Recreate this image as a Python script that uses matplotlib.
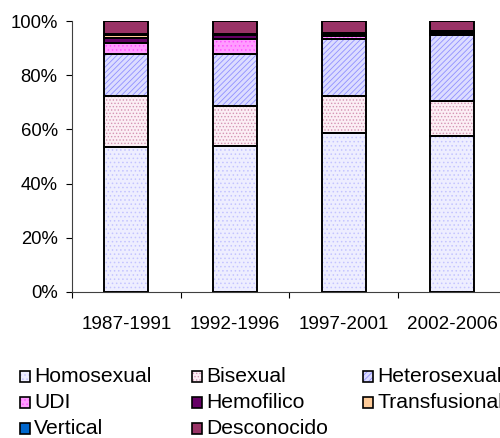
import matplotlib
matplotlib.use("Agg")
import matplotlib.pyplot as plt
from matplotlib.patches import Rectangle
import numpy as np

periods = ["1987-1991", "1992-1996", "1997-2001", "2002-2006"]
groups = ["Homosexual", "Bisexual", "Heterosexual", "UDI", "Hemofilico",
          "Transfusional", "Vertical", "Desconocido"]

# percent of cases per period
homosexual = [53.5, 54.0, 58.6, 57.6]
bisexual = [18.8, 14.8, 13.7, 13.0]
heterosexual = [15.4, 19.2, 21.0, 24.2]
udi = [4.3, 5.5, 1.2, 0.5]
hemofilico = [1.8, 1.2, 0.6, 0.6]
transfusional = [1.0, 0.3, 0.2, 0.2]
vertical = [0.5, 0.3, 0.3, 0.3]
desconocido = [4.7, 4.7, 4.4, 3.6]

series = [homosexual, bisexual, heterosexual, udi, hemofilico,
          transfusional, vertical, desconocido]

# face colour, hatch colour, hatch pattern
styles = [
    ("#eeeeff", "#c4c4ff", "...."),
    ("#fbeef4", "#d494b4", "....."),
    ("#dcdcff", "#9090ff", "//////"),
    ("#ff9cff", "#ff55ff", "...."),
    ("#660066", None, ""),
    ("#ffcc99", None, ""),
    ("#0066cc", None, ""),
    ("#993366", None, ""),
]

plt.rcParams['font.family'] = ['Liberation Sans', 'DejaVu Sans']
plt.rcParams['hatch.linewidth'] = 0.6

W, H = 500, 438
fig = plt.figure(figsize=(W / 100, H / 100), dpi=100)
# axes runs past the right edge like the original (cropped)
ax = fig.add_axes([72 / W, (H - 292) / H, 434.5 / W, 271 / H])

x = np.arange(len(periods))
bw = 0.405
bottom = np.zeros(len(periods))
for vals, (fc, hc, hatch) in zip(series, styles):
    v = np.array(vals) / 100.0
    if hatch:
        ax.bar(x, v, bw, bottom=bottom, color=fc, edgecolor=hc, hatch=hatch,
               linewidth=0, zorder=2)
    else:
        ax.bar(x, v, bw, bottom=bottom, color=fc, linewidth=0, zorder=2)
    ax.bar(x, v, bw, bottom=bottom, facecolor="none", edgecolor="black",
           linewidth=1.4, zorder=3)
    bottom += v

ax.set_xlim(-0.5, 3.5)
ax.set_ylim(0, 1)
ax.set_yticks(np.linspace(0, 1, 6))
ax.set_yticklabels(["%d%%" % (t * 100) for t in np.linspace(0, 1, 6)])
ax.set_xticks(np.arange(-0.5, 4, 1))
ax.set_xticklabels([])
ax.set_xticks(x, minor=True)
ax.set_xticklabels(periods, minor=True)
ax.tick_params(axis="y", direction="out", length=4.3, width=0.8, pad=6,
               labelsize=13.3, colors="black")
ax.tick_params(axis="x", which="major", direction="out", length=4.3, width=0.8)
ax.tick_params(axis="x", which="minor", length=0, pad=17, labelsize=13.6)
for s in ["top", "right"]:
    ax.spines[s].set_visible(False)
for s in ["left", "bottom"]:
    ax.spines[s].set_color("#404040")
    ax.spines[s].set_linewidth(0.8)

# legend laid out like the Excel one: 3 columns, row by row
col_x = [34, 206, 377]
row_y = [376, 402, 428]
for i, (name, (fc, hc, hatch)) in enumerate(zip(groups, styles)):
    cx = col_x[i % 3]
    cy = row_y[i // 3]
    sq = Rectangle(((cx - 14) / W, (H - cy - 5.5) / H), 10 / W, 11 / H,
                   transform=fig.transFigure, facecolor=fc,
                   edgecolor=hc if hatch else fc, hatch=hatch, linewidth=0)
    fig.patches.append(sq)
    fig.patches.append(Rectangle(((cx - 14) / W, (H - cy - 5.5) / H), 10 / W, 11 / H,
                                 transform=fig.transFigure, facecolor="none",
                                 edgecolor="black", linewidth=1.2))
    fig.text(cx / W, (H - cy) / H, name, fontsize=15.2, va="center", ha="left")

fig.savefig("out.png", dpi=100)
